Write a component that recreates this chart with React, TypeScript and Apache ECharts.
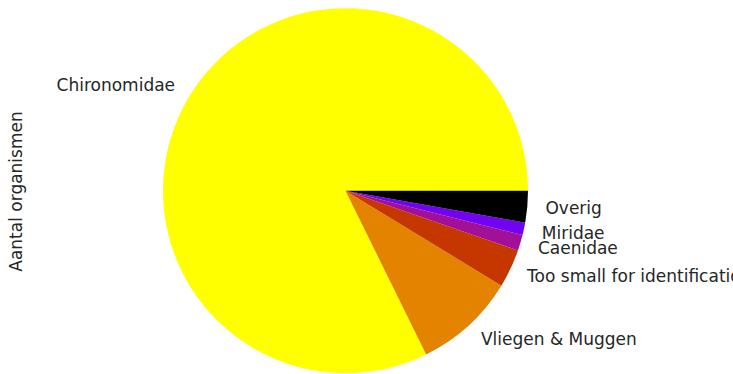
import React, { useEffect, useRef } from "react";
import * as echarts from "echarts";

const categories = [
  "Chironomidae",
  "Vliegen & Muggen",
  "Too small for identification",
  "Caenidae",
  "Miridae",
  "Overig",
];
const counts = [822, 90, 34, 14, 11, 28];
const colors = ["#FFFF00", "#E48300", "#C63700", "#A11096", "#7202F2", "#000000"];
const yLabel = "Aantal organismen";

export default function App() {
  const ref = useRef<HTMLDivElement>(null);
  useEffect(() => {
    const chart = echarts.init(ref.current!, null, { renderer: "svg" });
    const R = 182.5;
    const FS = 17;
    chart.setOption({
      animation: false,
      backgroundColor: "#ffffff",
      graphic: [
        {
          type: "text",
          x: 16,
          y: 191.5,
          rotation: Math.PI / 2,
          style: {
            text: yLabel,
            fontFamily: "DejaVu Sans",
            fontSize: FS,
            fill: "#262626",
            align: "center",
            verticalAlign: "middle",
          },
        },
      ],
      series: [
        {
          type: "pie",
          center: [345.5, 190.7],
          radius: [0, R],
          startAngle: 0,
          clockwise: false,
          avoidLabelOverlap: false,
          minShowLabelAngle: 0,
          labelLayout: { hideOverlap: false },
          itemStyle: { borderWidth: 0 },
          emphasis: { disabled: true },
          label: {
            show: true,
            position: "outside",
            fontFamily: "DejaVu Sans",
            fontSize: FS,
            color: "#262626",
            distanceToLabelLine: 0,
          },
          labelLine: { show: false, length: R * 0.1, length2: 0 },
          data: categories.map((c, i) => ({
            name: c,
            value: counts[i],
            itemStyle: { color: colors[i] },
          })),
        },
      ],
    });
    return () => chart.dispose();
  }, []);
  return (
    <div
      ref={ref}
      style={{ position: "fixed", left: 0, top: 0, width: 733, height: 374 }}
    />
  );
}
